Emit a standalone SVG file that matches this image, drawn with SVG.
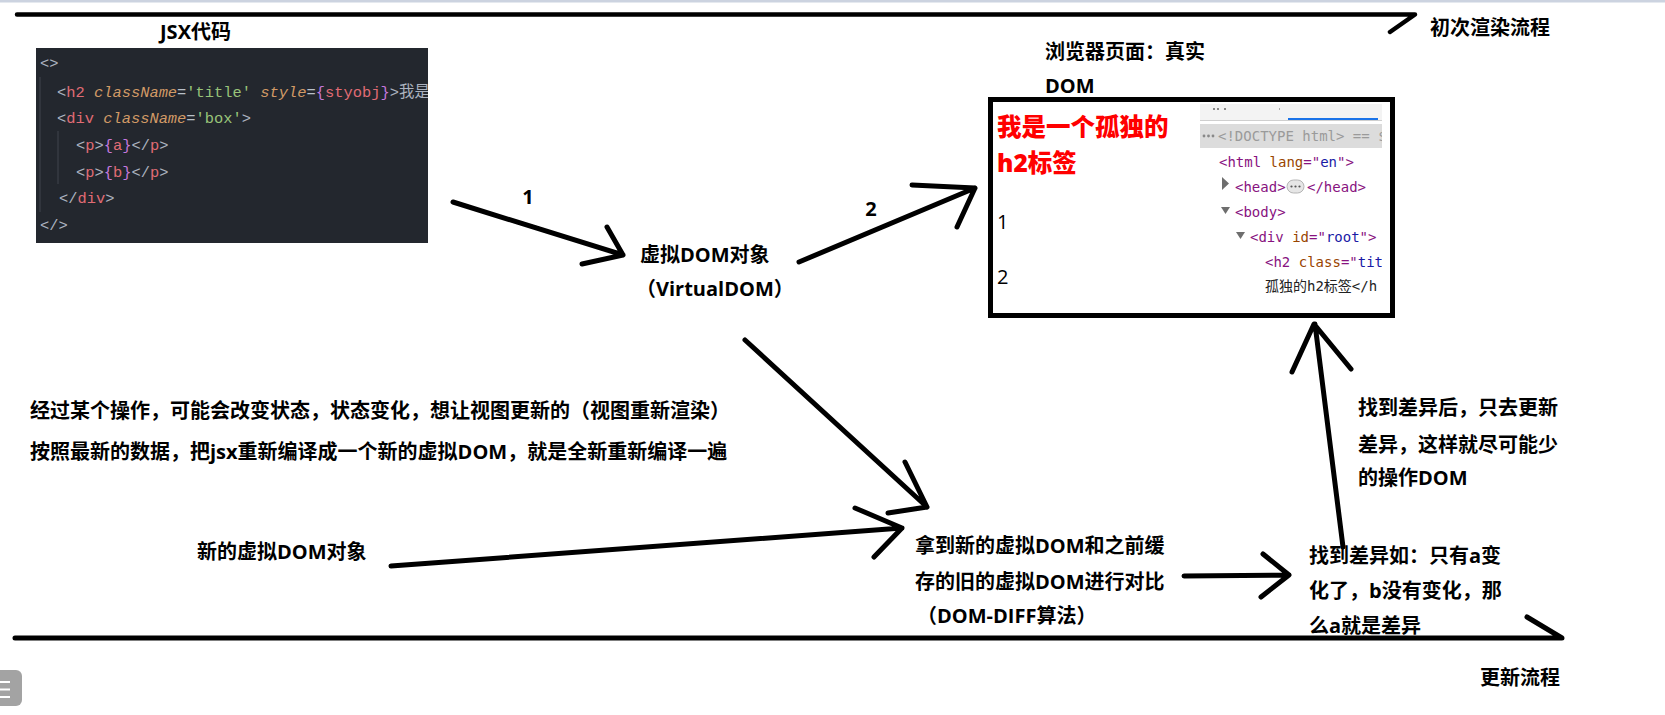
<svg xmlns="http://www.w3.org/2000/svg" width="1665" height="715" viewBox="0 0 1665 715">
<defs>
<style>
.lbl{font-family:"Open Sans","Noto Sans CJK SC",sans-serif;font-weight:700;font-size:20px;fill:#000}
.num{font-family:"Open Sans","Noto Sans CJK SC",sans-serif;font-weight:700;font-size:20px;fill:#000}
.red{font-family:"Open Sans","Noto Sans CJK SC",sans-serif;font-weight:900;font-size:24.5px;fill:#ff0000}
.pn{font-family:"Open Sans","Noto Sans CJK SC",sans-serif;font-weight:400;font-size:20px;fill:#000}
.code{font-family:"Liberation Mono","DejaVu Sans Mono","Noto Sans CJK SC",monospace;font-size:15.4px;fill:#abb2bf}
.tg{fill:#e06c75}.at{fill:#d19a66;font-style:italic}.st{fill:#98c379}.br{fill:#c678dd}.eq{fill:#b8c0c8}
.dt{font-family:"DejaVu Sans Mono","Liberation Mono","Noto Sans CJK SC",monospace;font-size:14px;fill:#881280}
.an{fill:#994500}.av{fill:#1a1aa6}.tx{fill:#222}.gr{fill:#9a9a9a}
.ln{stroke:#000;stroke-width:5;stroke-linecap:round;stroke-linejoin:round;fill:none}
.guide{stroke:#3b4048;stroke-width:1.2}
.tri{fill:#6e6e6e}
</style>
<clipPath id="codeClip"><rect x="36" y="48" width="392" height="195"/></clipPath>
<clipPath id="devClip"><rect x="1200" y="104" width="182" height="208"/></clipPath>
</defs>
<rect width="1665" height="715" fill="#fff"/>
<rect x="0" y="0" width="1665" height="2.5" fill="#ccd3e0"/>

<g id="jsx-code">
<text class="lbl" x="160" y="39">JSX代码</text>
<rect x="36" y="48" width="392" height="195" fill="#23272e"/>
<g clip-path="url(#codeClip)">
<line class="guide" x1="40" y1="77" x2="40" y2="212"/>
<line class="guide" x1="58" y1="131" x2="58" y2="184"/>
<text class="code" x="40" y="68">&lt;&gt;</text>
<text class="code" x="57" y="97">&lt;<tspan class="tg">h2</tspan> <tspan class="at">className</tspan><tspan class="eq">=</tspan><tspan class="st">'title'</tspan> <tspan class="at">style</tspan><tspan class="eq">=</tspan><tspan class="br">{</tspan><tspan class="tg">styobj</tspan><tspan class="br">}</tspan>&gt;<tspan x="399">我是</tspan></text>
<text class="code" x="57" y="123">&lt;<tspan class="tg">div</tspan> <tspan class="at">className</tspan><tspan class="eq">=</tspan><tspan class="st">'box'</tspan>&gt;</text>
<text class="code" x="76" y="150">&lt;<tspan class="tg">p</tspan>&gt;<tspan class="br">{</tspan><tspan class="tg">a</tspan><tspan class="br">}</tspan>&lt;/<tspan class="tg">p</tspan>&gt;</text>
<text class="code" x="76" y="177">&lt;<tspan class="tg">p</tspan>&gt;<tspan class="br">{</tspan><tspan class="tg">b</tspan><tspan class="br">}</tspan>&lt;/<tspan class="tg">p</tspan>&gt;</text>
<text class="code" x="59" y="203">&lt;/<tspan class="tg">div</tspan>&gt;</text>
<text class="code" x="40" y="230">&lt;/&gt;</text>
</g>
</g>

<g id="virtual-dom">
<text class="lbl" x="640" y="262">虚拟DOM对象</text>
<text class="lbl" x="636" y="296">（VirtualDOM）</text>
</g>

<g id="browser-dom">
<text class="lbl" x="1045" y="59">浏览器页面：真实</text>
<text class="lbl" x="1045" y="93">DOM</text>
<rect x="990.5" y="99.5" width="402" height="216" fill="#fff" stroke="#000" stroke-width="5"/>
<text class="red" x="997" y="136">我是一个孤独的</text>
<text class="red" x="997" y="172">h2标签</text>
<text class="pn" x="997" y="229">1</text>
<text class="pn" x="997" y="284">2</text>
<g clip-path="url(#devClip)">
<rect x="1200" y="104" width="182" height="16" fill="#f3f3f3"/>
<rect x="1200" y="120" width="182" height="1" fill="#cfcfcf"/>
<rect x="1288" y="118" width="90" height="2" fill="#1a73e8"/>
<rect x="1213" y="108" width="2" height="2" fill="#888"/><rect x="1217" y="108" width="2" height="2" fill="#888"/><rect x="1224" y="108" width="2" height="2" fill="#888"/><rect x="1279" y="108" width="1" height="2" fill="#aaa"/>
<rect x="1200" y="124" width="182" height="24" fill="#dcdcdc"/>
<circle cx="1204" cy="136" r="1.4" fill="#888"/><circle cx="1208.5" cy="136" r="1.4" fill="#888"/><circle cx="1213" cy="136" r="1.4" fill="#888"/>
<text class="dt gr" x="1218" y="141">&lt;!DOCTYPE html&gt; == $0</text>
<text class="dt" x="1219" y="167">&lt;html <tspan class="an">lang</tspan>="<tspan class="av">en</tspan>"&gt;</text>
<polygon class="tri" points="1222,177 1229,183.5 1222,190"/>
<text class="dt" x="1235" y="192">&lt;head&gt;</text>
<rect x="1287" y="180" width="17" height="13" rx="6.5" fill="#e6e6e6" stroke="#b5b5b5" stroke-width="1"/>
<circle cx="1291.5" cy="186.5" r="1.1" fill="#555"/><circle cx="1295.5" cy="186.5" r="1.1" fill="#555"/><circle cx="1299.5" cy="186.5" r="1.1" fill="#555"/>
<text class="dt" x="1307" y="192">&lt;/head&gt;</text>
<polygon class="tri" points="1221,207 1230,207 1225.5,214"/>
<text class="dt" x="1235" y="217">&lt;body&gt;</text>
<polygon class="tri" points="1236,232 1245,232 1240.5,239"/>
<text class="dt" x="1250" y="242">&lt;div <tspan class="an">id</tspan>="<tspan class="av">root</tspan>"&gt;</text>
<text class="dt" x="1265" y="267">&lt;h2 <tspan class="an">class</tspan>="<tspan class="av">tit</tspan></text>
<text class="dt tx" x="1265" y="291">孤独的h2标签&lt;/h</text>
</g>
</g>

<g id="update-note">
<text class="lbl" x="30" y="418">经过某个操作，可能会改变状态，状态变化，想让视图更新的（视图重新渲染）</text>
<text class="lbl" x="30" y="459">按照最新的数据，把jsx重新编译成一个新的虚拟DOM，就是全新重新编译一遍</text>
</g>

<g id="new-vdom">
<text class="lbl" x="197" y="559">新的虚拟DOM对象</text>
</g>

<g id="dom-diff">
<text class="lbl" x="915" y="553">拿到新的虚拟DOM和之前缓</text>
<text class="lbl" x="915" y="589">存的旧的虚拟DOM进行对比</text>
<text class="lbl" x="917" y="623">（DOM-DIFF算法）</text>
</g>

<g id="diff-result">
<text class="lbl" x="1309" y="563">找到差异如：只有a变</text>
<text class="lbl" x="1309" y="598">化了，b没有变化，那</text>
<text class="lbl" x="1309" y="633">么a就是差异</text>
</g>

<g id="patch-note">
<text class="lbl" x="1358" y="415">找到差异后，只去更新</text>
<text class="lbl" x="1358" y="452">差异，这样就尽可能少</text>
<text class="lbl" x="1358" y="485">的操作DOM</text>
</g>

<g id="first-render-label">
<text class="lbl" x="1430" y="35">初次渲染流程</text>
</g>
<g id="update-label">
<text class="lbl" x="1480" y="685">更新流程</text>
</g>

<g id="connectors">
<path class="ln" style="stroke-width:4.5" d="M17,14.5 L1415,14.5 L1390,32"/>
<path class="ln" d="M15,638 L1562,638 L1527,617"/>
<path class="ln" d="M453,202 L623,255 M607,227 L623,255 L582,264"/>
<text class="num" x="528" y="204" text-anchor="middle">1</text>
<path class="ln" d="M799,262 L975,188 M912,185 L975,188 L957,227"/>
<text class="num" x="871" y="216" text-anchor="middle">2</text>
<path class="ln" d="M745,340 L927,507 M905,462 L927,507 L888,513"/>
<path class="ln" d="M391,566 L902,528 M855,508 L902,528 L874,557"/>
<path class="ln" d="M1184,576 L1289,575 M1263,554 L1289,575 L1261,597"/>
<path class="ln" d="M1343,547 L1315,324 M1292,372 L1314,324 L1351,369"/>
</g>

<g id="side-icon">
<rect x="-6" y="670" width="28" height="36" rx="6" fill="#a3a3a3"/>
<rect x="0" y="681" width="10" height="2" fill="#fff"/>
<rect x="0" y="688.5" width="10" height="2" fill="#fff"/>
<rect x="0" y="696" width="10" height="2" fill="#fff"/>
</g>
</svg>
